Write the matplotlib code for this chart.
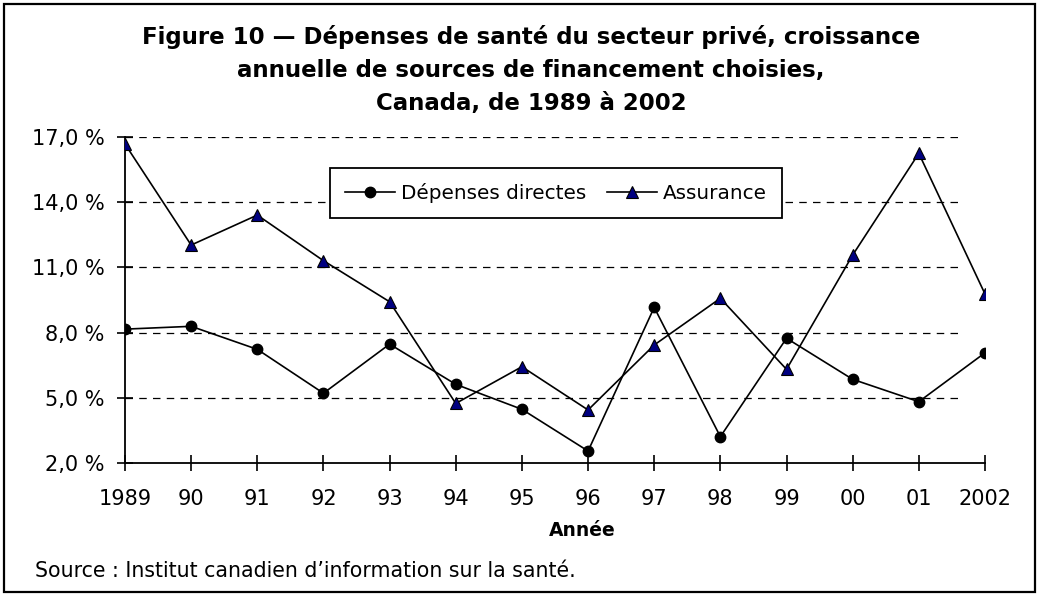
import matplotlib
matplotlib.use("Agg")
import matplotlib.pyplot as plt
from matplotlib.patches import Rectangle

# ── Data ─────────────────────────────────────────────────────────────────────
years = [1989, 1990, 1991, 1992, 1993, 1994, 1995, 1996, 1997, 1998, 1999, 2000, 2001, 2002]
year_labels = ["1989", "90", "91", "92", "93", "94", "95", "96", "97", "98", "99", "00", "01", "2002"]
depenses_directes = [8.16, 8.29, 7.23, 5.21, 7.47, 5.62, 4.47, 2.55, 9.16, 3.21, 7.74, 5.85, 4.82, 7.07]
assurance = [16.68, 12.03, 13.41, 11.31, 9.42, 4.74, 6.43, 4.44, 7.43, 9.58, 6.31, 11.57, 16.25, 9.78]
y_ticks = [2.0, 5.0, 8.0, 11.0, 14.0, 17.0]

plt.rcParams["font.family"] = ["DejaVu Sans"]

fig = plt.figure(figsize=(10.39, 5.96), dpi=100)
ax = fig.add_axes([0.1203, 0.2232, 0.948 - 0.1203, 0.770 - 0.2232])

ax.plot(years, depenses_directes, color="black", lw=1.2, marker="o",
        ms=7.5, mfc="black", mec="black", label="Dépenses directes", zorder=3)
ax.plot(years, assurance, color="black", lw=1.2, marker="^",
        ms=9, mfc="#000080", mec="black", mew=0.8, label="Assurance", zorder=3)

ax.set_xlim(years[0], years[-1])
ax.set_ylim(y_ticks[0], y_ticks[-1])
ax.set_xticks(years)
ax.set_xticklabels(year_labels)
ax.set_yticks(y_ticks)
ax.set_yticklabels([f"{v:.1f} %".replace(".", ",") for v in y_ticks])
ax.tick_params(axis="both", direction="inout", length=11, width=1.2,
               labelsize=15, color="black")
ax.tick_params(axis="x", pad=13)
ax.tick_params(axis="y", pad=9)

# dashed gridlines stop a little before the last category
for v in y_ticks[1:]:
    ax.axhline(v, xmax=0.974, color="black", lw=0.9, ls=(0, (6, 5)), zorder=1)

for s in ["top", "right"]:
    ax.spines[s].set_visible(False)
for s in ["left", "bottom"]:
    ax.spines[s].set_linewidth(1.3)

leg = ax.legend(loc="upper left", bbox_to_anchor=(0.238, 0.905), ncol=2,
                borderaxespad=0, fontsize=14.4, frameon=True, fancybox=False,
                framealpha=1, edgecolor="black", handlelength=2.5,
                columnspacing=1.05, borderpad=0.75, handletextpad=0.3)
leg.get_frame().set_linewidth(1.3)

# ── Titles and notes ─────────────────────────────────────────────────────────
title_lines = ["Figure 10 — Dépenses de santé du secteur privé, croissance",
               "annuelle de sources de financement choisies,",
               "Canada, de 1989 à 2002"]
for i, line in enumerate(title_lines):
    fig.text(0.511, 0.926 - i * 0.0555, line, ha="center", va="baseline",
             fontsize=16.5, fontweight="bold")

fig.text(0.56, 0.1007, "Année", ha="center", va="baseline",
         fontsize=13.5, fontweight="bold")

fig.text(0.034, 0.032, "Source : Institut canadien d’information sur la santé.",
         ha="left", va="baseline", fontsize=14.8)

fig.patches.append(Rectangle((0.004, 0.006), 0.992, 0.988, transform=fig.transFigure,
                             fill=False, edgecolor="black", lw=1.6))

fig.savefig("out.png", dpi=100)
